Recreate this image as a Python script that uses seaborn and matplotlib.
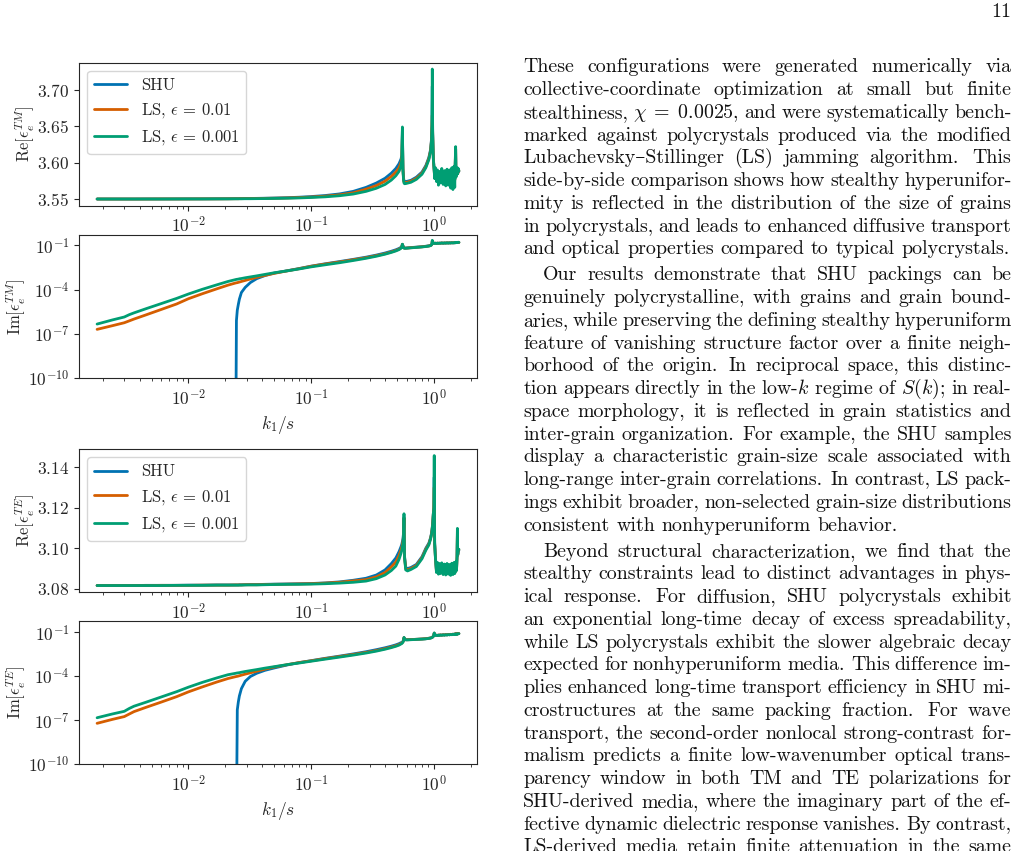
import re
import numpy as np
import pandas as pd
import matplotlib
matplotlib.use("Agg")
from matplotlib import pyplot as plt
import seaborn as sns

nan = np.nan

# page / figure size in pixels
W, H = 1019, 851
BODY = 14.35  # body text size (pt)
SMALL = 12.5  # figure text size (pt)

sns.set_style("ticks")
plt.rcParams["font.family"] = ["cmr10", "DejaVu Serif"]
plt.rcParams["mathtext.fontset"] = "cm"
plt.rcParams["axes.formatter.use_mathtext"] = True

# ---- data ----
k_s = [0.0018, 0.0024, 0.003, 0.0033, 0.0036, 0.0045, 0.006, 0.008, 0.01, 0.013,
       0.017, 0.021, 0.0243, 0.0246, 0.025, 0.0255, 0.026, 0.027, 0.029, 0.032,
       0.036, 0.042, 0.05, 0.065, 0.08, 0.1, 0.13, 0.17, 0.22, 0.28,
       0.34, 0.4, 0.45, 0.49, 0.52, 0.54, 0.548, 0.554, 0.56, 0.566,
       0.571, 0.577, 0.59, 0.61, 0.65, 0.72, 0.8, 0.86, 0.91, 0.94,
       0.955, 0.965, 0.971, 0.978, 0.99, 1.0, 1.007, 1.015, 1.03, 1.05,
       1.07, 1.09, 1.11, 1.13, 1.16, 1.19, 1.22, 1.25, 1.28, 1.31,
       1.34, 1.37, 1.4, 1.43, 1.46, 1.48, 1.495, 1.505, 1.515, 1.53,
       1.545, 1.555, 1.565, 1.58, 1.6]

re_tm_shu = [3.5500, 3.5500, 3.5500, 3.5500, 3.5500, 3.5501, 3.5501, 3.5501, 3.5502, 3.5502, 3.5503, 3.5504,
             3.5505, 3.5505, 3.5505, 3.5505, 3.5506, 3.5506, 3.5507, 3.5508, 3.5509, 3.5511, 3.5514,
             3.5519, 3.5525, 3.5534, 3.5548, 3.5570, 3.5605,
             3.5660, 3.5720, 3.5785, 3.5855, 3.5920, 3.5985, 3.6050, 3.6100,
             3.6450,
             3.5920, 3.5790, 3.5750, 3.5740, 3.5740, 3.5745, 3.5757, 3.5800, 3.5870, 3.5960, 3.6070,
             3.6180, 3.6310, 3.6520, 3.7050, 3.6420, 3.6070, 3.5960, 3.5890, 3.5800,
             3.5880, 3.5780, 3.5870, 3.5760, 3.5860, 3.5770, 3.5880, 3.5750, 3.5860, 3.5740, 3.5870, 3.5760,
             3.5850, 3.5730, 3.5880, 3.5740, 3.5890, 3.5770,
             3.6000, 3.6180, 3.5820, 3.5900, 3.5850, 3.5910, 3.5860, 3.5900, 3.5880]
re_tm_ls1 = [3.5500, 3.5500, 3.5500, 3.5500, 3.5500, 3.5500, 3.5501, 3.5501, 3.5501, 3.5502, 3.5502, 3.5503,
             3.5504, 3.5504, 3.5504, 3.5504, 3.5505, 3.5505, 3.5506, 3.5506, 3.5507, 3.5509, 3.5511,
             3.5515, 3.5520, 3.5527, 3.5539, 3.5557, 3.5585,
             3.5635, 3.5685, 3.5745, 3.5810, 3.5870, 3.5930, 3.6000, 3.6080,
             3.6380,
             3.5910, 3.5775, 3.5735, 3.5725, 3.5726, 3.5732, 3.5744, 3.5785, 3.5855, 3.5945, 3.6055,
             3.6165, 3.6295, 3.6510, 3.6650, 3.6410, 3.6060, 3.5955, 3.5885, 3.5790,
             3.5890, 3.5770, 3.5880, 3.5750, 3.5870, 3.5760, 3.5890, 3.5740, 3.5870, 3.5730, 3.5880, 3.5750,
             3.5860, 3.5720, 3.5890, 3.5730, 3.5900, 3.5760,
             3.6020, 3.6190, 3.5810, 3.5910, 3.5840, 3.5920, 3.5850, 3.5910, 3.5885]
re_tm_ls2 = [3.5500, 3.5500, 3.5500, 3.5500, 3.5500, 3.5500, 3.5500, 3.5501, 3.5501, 3.5501, 3.5502, 3.5502,
             3.5503, 3.5503, 3.5503, 3.5503, 3.5503, 3.5503, 3.5504, 3.5504, 3.5505, 3.5506, 3.5508,
             3.5511, 3.5515, 3.5521, 3.5530, 3.5545, 3.5568,
             3.5605, 3.5648, 3.5700, 3.5760, 3.5820, 3.5880, 3.5950, 3.6050,
             3.6490,
             3.5900, 3.5760, 3.5720, 3.5710, 3.5712, 3.5718, 3.5730, 3.5770, 3.5840, 3.5930, 3.6040,
             3.6150, 3.6280, 3.6500, 3.7286, 3.6400, 3.6050, 3.5950, 3.5880, 3.5780,
             3.5930, 3.5740, 3.5900, 3.5690, 3.5880, 3.5720, 3.5920, 3.5700, 3.5890, 3.5680, 3.5910, 3.5690,
             3.5900, 3.5650, 3.5930, 3.5630, 3.5950, 3.5660,
             3.6050, 3.6220, 3.5800, 3.5920, 3.5840, 3.5930, 3.5850, 3.5920, 3.5890]

im_tm_shu = [nan, nan, nan, nan, nan, nan, nan, nan, nan, nan, nan, nan,
             1e-14, 7.94e-7, 3.98e-6, 1.00e-5, 2.24e-5, 6.31e-5, 1.41e-4, 3.02e-4, 5.50e-4, 8.91e-4, 1.32e-3,
             1.95e-3, 2.69e-3, 3.89e-3, 5.62e-3, 7.94e-3, 1.12e-2,
             1.58e-2, 2.19e-2, 3.02e-2, 3.98e-2, 5.01e-2, 6.17e-2, 7.41e-2, 8.71e-2,
             1.17e-1,
             9.33e-2, 7.41e-2, 6.76e-2, 6.61e-2, 6.61e-2, 6.76e-2, 7.08e-2, 7.59e-2, 8.13e-2, 8.71e-2, 9.33e-2,
             1.00e-1, 1.10e-1, 1.29e-1, 1.91e-1, 1.62e-1, 1.45e-1, 1.38e-1, 1.38e-1, 0.138,
             0.140, 0.136, 0.141, 0.138, 0.141, 0.140, 0.145, 0.141, 0.145, 0.143, 0.148, 0.145,
             0.148, 0.146, 0.151, 0.148, 0.151, 0.150,
             0.155, 0.151, 0.155, 0.153, 0.158, 0.155, 0.158, 0.160, 0.158]
im_tm_ls1 = [2.00e-7, 3.55e-7, 5.62e-7, 7.59e-7, 1.00e-6, 1.91e-6, 4.47e-6, 1.05e-5, 2.40e-5, 5.25e-5, 1.12e-4, 2.00e-4,
             2.82e-4, 2.88e-4, 2.95e-4, 3.09e-4, 3.24e-4, 3.55e-4, 4.17e-4, 5.25e-4, 6.76e-4, 9.12e-4, 1.26e-3,
             1.91e-3, 2.63e-3, 3.80e-3, 5.37e-3, 7.41e-3, 1.05e-2,
             1.45e-2, 2.00e-2, 2.69e-2, 3.55e-2, 4.47e-2, 5.50e-2, 6.76e-2, 8.32e-2,
             1.17e-1,
             9.12e-2, 7.24e-2, 6.61e-2, 6.46e-2, 6.46e-2, 6.61e-2, 6.92e-2, 7.41e-2, 7.94e-2, 8.51e-2, 9.12e-2,
             9.77e-2, 1.07e-1, 1.26e-1, 2.00e-1, 1.62e-1, 1.45e-1, 1.38e-1, 1.38e-1, 0.138,
             0.140, 0.136, 0.141, 0.138, 0.141, 0.140, 0.145, 0.141, 0.145, 0.143, 0.148, 0.145,
             0.148, 0.146, 0.151, 0.148, 0.151, 0.150,
             0.155, 0.151, 0.155, 0.153, 0.158, 0.155, 0.158, 0.160, 0.158]
im_tm_ls2 = [4.57e-7, 8.71e-7, 1.38e-6, 2.00e-6, 2.63e-6, 5.01e-6, 1.12e-5, 2.51e-5, 5.01e-5, 1.05e-4, 2.09e-4, 3.55e-4,
             4.79e-4, 4.90e-4, 5.01e-4, 5.13e-4, 5.37e-4, 5.62e-4, 6.31e-4, 7.24e-4, 8.51e-4, 1.07e-3, 1.38e-3,
             1.91e-3, 2.51e-3, 3.47e-3, 4.79e-3, 6.61e-3, 9.33e-3,
             1.32e-2, 1.82e-2, 2.51e-2, 3.31e-2, 4.17e-2, 5.13e-2, 6.31e-2, 7.94e-2,
             1.20e-1,
             8.91e-2, 7.08e-2, 6.46e-2, 6.31e-2, 6.31e-2, 6.46e-2, 6.76e-2, 7.24e-2, 7.76e-2, 8.32e-2, 8.91e-2,
             9.55e-2, 1.05e-1, 1.26e-1, 2.19e-1, 1.66e-1, 1.45e-1, 1.38e-1, 1.35e-1, 0.135,
             0.138, 0.132, 0.141, 0.135, 0.141, 0.138, 0.145, 0.138, 0.145, 0.141, 0.148, 0.141,
             0.148, 0.145, 0.151, 0.145, 0.151, 0.148,
             0.158, 0.151, 0.155, 0.151, 0.158, 0.155, 0.158, 0.162, 0.158]

re_te_shu = [3.0816, 3.0816, 3.0816, 3.0816, 3.0816, 3.0817, 3.0817, 3.0817, 3.0818, 3.0818, 3.0819, 3.0819,
             3.0819, 3.0819, 3.0819, 3.0819, 3.0820, 3.0820, 3.0820, 3.0821, 3.0821, 3.0822, 3.0823,
             3.0824, 3.0825, 3.0826, 3.0829, 3.0834, 3.0842,
             3.0852, 3.0868, 3.0893, 3.0924, 3.0952, 3.0983, 3.1008, 3.1020,
             3.1033, 3.1048, 3.1075, 3.1150,
             3.0960, 3.0905, 3.0900, 3.0905, 3.0920, 3.0958, 3.1000, 3.1025, 3.1052, 3.1072, 3.1090, 3.1105,
             3.1125, 3.1170, 3.1200, 3.1350, 3.1030, 3.0955,
             3.0890, 3.0920, 3.0880, 3.0915, 3.0882, 3.0918, 3.0878, 3.0915, 3.0876, 3.0918, 3.0880, 3.0912,
             3.0875, 3.0918, 3.0878, 3.0920, 3.0882,
             3.0918, 3.0890, 3.0925, 3.0895, 3.0955, 3.1060, 3.0965, 3.0985, 3.0990]
re_te_ls1 = [3.0816, 3.0816, 3.0816, 3.0816, 3.0816, 3.0816, 3.0817, 3.0817, 3.0817, 3.0818, 3.0818, 3.0818,
             3.0819, 3.0819, 3.0819, 3.0819, 3.0819, 3.0819, 3.0820, 3.0820, 3.0820, 3.0821, 3.0822,
             3.0823, 3.0824, 3.0825, 3.0828, 3.0832, 3.0839,
             3.0845, 3.0859, 3.0880, 3.0908, 3.0932, 3.0964, 3.0992, 3.1005,
             3.1018, 3.1034, 3.1062, 3.1150,
             3.0955, 3.0898, 3.0894, 3.0900, 3.0915, 3.0953, 3.0995, 3.1020, 3.1048, 3.1068, 3.1088, 3.1102,
             3.1122, 3.1170, 3.1210, 3.1300, 3.1025, 3.0952,
             3.0885, 3.0925, 3.0876, 3.0920, 3.0878, 3.0922, 3.0874, 3.0918, 3.0872, 3.0920, 3.0876, 3.0916,
             3.0870, 3.0922, 3.0874, 3.0925, 3.0878,
             3.0922, 3.0888, 3.0930, 3.0892, 3.0958, 3.1080, 3.0968, 3.0988, 3.0992]
re_te_ls2 = [3.0816, 3.0816, 3.0816, 3.0816, 3.0816, 3.0816, 3.0816, 3.0817, 3.0817, 3.0817, 3.0818, 3.0818,
             3.0818, 3.0818, 3.0818, 3.0818, 3.0818, 3.0818, 3.0819, 3.0819, 3.0819, 3.0820, 3.0821,
             3.0822, 3.0822, 3.0823, 3.0825, 3.0828, 3.0832,
             3.0838, 3.0850, 3.0868, 3.0890, 3.0912, 3.0945, 3.0975, 3.0990,
             3.1005, 3.1020, 3.1050, 3.1170,
             3.0950, 3.0893, 3.0888, 3.0895, 3.0910, 3.0948, 3.0990, 3.1016, 3.1045, 3.1065, 3.1085, 3.1100,
             3.1120, 3.1170, 3.1200, 3.1457, 3.1020, 3.0950,
             3.0880, 3.0930, 3.0872, 3.0925, 3.0875, 3.0928, 3.0870, 3.0922, 3.0868, 3.0925, 3.0872, 3.0920,
             3.0866, 3.0926, 3.0870, 3.0930, 3.0875,
             3.0925, 3.0885, 3.0935, 3.0890, 3.0960, 3.1098, 3.0970, 3.0990, 3.0995]

im_te_shu = [nan, nan, nan, nan, nan, nan, nan, nan, nan, nan, nan, nan,
             nan, 1e-14, 5.01e-7, 1.78e-6, 4.47e-6, 1.41e-5, 4.47e-5, 9.55e-5, 1.58e-4, 2.51e-4, 3.63e-4,
             6.03e-4, 8.51e-4, 1.15e-3, 1.66e-3, 2.34e-3, 3.31e-3,
             4.68e-3, 6.46e-3, 8.71e-3, 1.12e-2, 1.38e-2, 1.66e-2, 1.95e-2, 2.04e-2,
             2.19e-2, 2.40e-2, 2.88e-2, 4.37e-2,
             3.47e-2, 3.09e-2, 3.09e-2, 3.16e-2, 3.31e-2, 3.47e-2, 3.63e-2, 3.89e-2, 4.07e-2, 4.27e-2, 4.47e-2, 4.57e-2,
             4.79e-2, 5.37e-2, 6.76e-2, 8.71e-2, 6.76e-2, 6.17e-2,
             6.31e-2, 6.03e-2, 6.46e-2, 6.17e-2, 6.61e-2, 6.31e-2, 6.76e-2, 6.46e-2, 6.92e-2, 6.61e-2, 7.08e-2, 6.76e-2,
             7.24e-2, 6.92e-2, 7.41e-2, 7.08e-2, 7.59e-2,
             7.24e-2, 7.76e-2, 7.41e-2, 7.76e-2, 7.59e-2, 7.94e-2, 7.76e-2, 8.13e-2, 8.13e-2]
im_te_ls1 = [6.03e-8, 1.12e-7, 1.74e-7, 2.63e-7, 3.80e-7, 7.41e-7, 1.70e-6, 3.98e-6, 8.51e-6, 1.86e-5, 3.98e-5, 6.92e-5,
             9.33e-5, 9.55e-5, 9.77e-5, 1.02e-4, 1.07e-4, 1.17e-4, 1.38e-4, 1.70e-4, 2.19e-4, 3.02e-4, 4.17e-4,
             6.31e-4, 8.51e-4, 1.12e-3, 1.58e-3, 2.19e-3, 3.02e-3,
             4.17e-3, 5.62e-3, 7.59e-3, 9.77e-3, 1.20e-2, 1.45e-2, 1.70e-2, 1.82e-2,
             2.00e-2, 2.24e-2, 2.75e-2, 4.27e-2,
             3.47e-2, 3.09e-2, 3.09e-2, 3.16e-2, 3.31e-2, 3.47e-2, 3.63e-2, 3.89e-2, 4.07e-2, 4.27e-2, 4.47e-2, 4.57e-2,
             4.79e-2, 5.37e-2, 6.76e-2, 8.71e-2, 6.76e-2, 6.17e-2,
             6.31e-2, 6.03e-2, 6.46e-2, 6.17e-2, 6.61e-2, 6.31e-2, 6.76e-2, 6.46e-2, 6.92e-2, 6.61e-2, 7.08e-2, 6.76e-2,
             7.24e-2, 6.92e-2, 7.41e-2, 7.08e-2, 7.59e-2,
             7.24e-2, 7.76e-2, 7.41e-2, 7.76e-2, 7.59e-2, 7.94e-2, 7.76e-2, 8.13e-2, 8.13e-2]
im_te_ls2 = [1.45e-7, 2.63e-7, 3.98e-7, 6.31e-7, 8.91e-7, 1.66e-6, 3.80e-6, 8.71e-6, 1.78e-5, 3.80e-5, 7.59e-5, 1.26e-4,
             1.58e-4, 1.62e-4, 1.66e-4, 1.70e-4, 1.74e-4, 1.86e-4, 2.09e-4, 2.40e-4, 2.82e-4, 3.55e-4, 4.47e-4,
             6.31e-4, 7.94e-4, 1.05e-3, 1.45e-3, 2.00e-3, 2.75e-3,
             3.80e-3, 5.13e-3, 6.92e-3, 8.91e-3, 1.10e-2, 1.32e-2, 1.58e-2, 1.70e-2,
             1.86e-2, 2.09e-2, 2.63e-2, 4.37e-2,
             3.39e-2, 3.02e-2, 3.02e-2, 3.09e-2, 3.24e-2, 3.39e-2, 3.55e-2, 3.80e-2, 3.98e-2, 4.17e-2, 4.37e-2, 4.47e-2,
             4.68e-2, 5.25e-2, 6.61e-2, 8.91e-2, 6.61e-2, 6.03e-2,
             6.17e-2, 5.89e-2, 6.31e-2, 6.03e-2, 6.46e-2, 6.17e-2, 6.61e-2, 6.31e-2, 6.76e-2, 6.46e-2, 6.92e-2, 6.61e-2,
             7.08e-2, 6.76e-2, 7.24e-2, 6.92e-2, 7.41e-2,
             7.08e-2, 7.59e-2, 7.24e-2, 7.59e-2, 7.41e-2, 7.76e-2, 7.59e-2, 7.94e-2, 7.94e-2]

series_names = ["SHU", r"LS, $\epsilon\,=\,0.01$", r"LS, $\epsilon\,=\,0.001$"]
series_colors = ["#0072b2", "#d55e00", "#009e73"]

# ---- text column ----
paragraphs = [
    (False, [
        "These configurations were generated numerically via",
        "collective-coordinate optimization at small but finite",
        r"stealthiness, $\chi\;=\;0.0025$, and were systematically bench-",
        "marked against polycrystals produced via the modified",
        "Lubachevsky\u2013Stillinger (LS) jamming algorithm. This",
        "side-by-side comparison shows how stealthy hyperunifor-",
        "mity is reflected in the distribution of the size of grains",
        "in polycrystals, and leads to enhanced diffusive transport",
        "and optical properties compared to typical polycrystals.",
    ]),
    (True, [
        "Our results demonstrate that SHU packings can be",
        "genuinely polycrystalline, with grains and grain bound-",
        "aries, while preserving the defining stealthy hyperuniform",
        "feature of vanishing structure factor over a finite neigh-",
        "borhood of the origin. In reciprocal space, this distinc-",
        r"tion appears directly in the low-$k$ regime of $S(k)$; in real-",
        "space morphology, it is reflected in grain statistics and",
        "inter-grain organization. For example, the SHU samples",
        "display a characteristic grain-size scale associated with",
        "long-range inter-grain correlations. In contrast, LS pack-",
        "ings exhibit broader, non-selected grain-size distributions",
        "consistent with nonhyperuniform behavior.",
    ]),
    (True, [
        "Beyond structural characterization, we find that the",
        "stealthy constraints lead to distinct advantages in phys-",
        "ical response. For diffusion, SHU polycrystals exhibit",
        "an exponential long-time decay of excess spreadability,",
        "while LS polycrystals exhibit the slower algebraic decay",
        "expected for nonhyperuniform media. This difference im-",
        "plies enhanced long-time transport efficiency in SHU mi-",
        "crostructures at the same packing fraction. For wave",
        "transport, the second-order nonlocal strong-contrast for-",
        "malism predicts a finite low-wavenumber optical trans-",
        "parency window in both TM and TE polarizations for",
        "SHU-derived media, where the imaginary part of the ef-",
        "fective dynamic dielectric response vanishes. By contrast,",
        "LS-derived media retain finite attenuation in the same",
    ]),
]

fig = plt.figure(figsize=(W / 100, H / 100), dpi=100)


def px(x, y):
    return x / W, 1 - y / H


def draw_panel(rect, shu, ls1, ls2, ylabel, logy, ylim, yticks, xlabel, legend):
    ax = fig.add_axes(rect)
    parts = []
    for name, vals in zip(series_names, [shu, ls1, ls2]):
        parts.append(pd.DataFrame({"k": k_s, "val": vals, "series": name}))
    df = pd.concat(parts, ignore_index=True).dropna()
    sns.lineplot(data=df, x="k", y="val", hue="series", hue_order=series_names,
                 palette=series_colors, estimator=None, sort=False, lw=2.0,
                 ax=ax, legend=legend)
    ax.set_xscale("log")
    if logy:
        ax.set_yscale("log")
        ax.yaxis.set_minor_locator(matplotlib.ticker.NullLocator())
    if ylim is not None:
        ax.set_ylim(*ylim)
    ax.set_yticks(yticks)
    ax.set_ylabel(ylabel, fontsize=12, labelpad=0)
    ax.set_xlabel(xlabel, fontsize=SMALL)
    ax.tick_params(labelsize=SMALL)
    if legend:
        old = ax.get_legend()
        handles = old.legend_handles
        labels = [t.get_text() for t in old.texts]
        old.remove()
        ax.legend(handles=handles, labels=labels, loc="upper left", fontsize=12)
    return ax


left, width = 79 / W, 398 / W
draw_panel([left, 0.7585, width, 0.168], re_tm_shu, re_tm_ls1, re_tm_ls2,
           r"$\mathrm{Re}[\epsilon_e^{TM}]$", False, None, [3.55, 3.60, 3.65, 3.70], "", True)
draw_panel([left, 0.5558, width, 0.168], im_tm_shu, im_tm_ls1, im_tm_ls2,
           r"$\mathrm{Im}[\epsilon_e^{TM}]$", True, (1e-10, 0.5), [1e-10, 1e-7, 1e-4, 1e-1],
           r"$k_1/s$", False)
draw_panel([left, 0.3043, width, 0.168], re_te_shu, re_te_ls1, re_te_ls2,
           r"$\mathrm{Re}[\epsilon_e^{TE}]$", False, None, [3.08, 3.10, 3.12, 3.14], "", True)
draw_panel([left, 0.1022, width, 0.1686], im_te_shu, im_te_ls1, im_te_ls2,
           r"$\mathrm{Im}[\epsilon_e^{TE}]$", True, (1e-10, 0.63), [1e-10, 1e-7, 1e-4, 1e-1],
           r"$k_1/s$", False)

# ---- justified body text ----
renderer = fig.canvas.get_renderer()
col_left, col_right, indent = 523.3, 1011.5, 20.0
space_px = 0.333 * BODY * 100 / 72
token_re = re.compile(r"\S*\$[^$]*\$\S*|\S+")


def set_line(text, y, x0, justify):
    words = token_re.findall(text)
    items = [fig.text(0, 0, w, fontsize=BODY, color="#111111", va="baseline") for w in words]
    widths = [t.get_window_extent(renderer).width for t in items]
    weights = [1.35 if words[i].endswith(".") else 1.0 for i in range(len(words) - 1)]
    if justify and len(words) > 1:
        unit = (col_right - x0 - sum(widths)) / sum(weights)
    else:
        unit = space_px
    x = x0
    for i, t in enumerate(items):
        t.set_position(px(x, y))
        if i < len(weights):
            x += widths[i] + unit * weights[i]


base, step, para_gap = 72.3, 22.75, 3.3
y = base
for p, (indented, lines) in enumerate(paragraphs):
    for i, line in enumerate(lines):
        last = (i == len(lines) - 1) and p < len(paragraphs) - 1
        set_line(line, y, col_left + (indent if (indented and i == 0) else 0), not last)
        y += step
    y += para_gap

fig.text(*px(1011.5, 17), "11", fontsize=BODY, ha="right", va="baseline", color="#111111")

fig.savefig("out.png", dpi=100)
